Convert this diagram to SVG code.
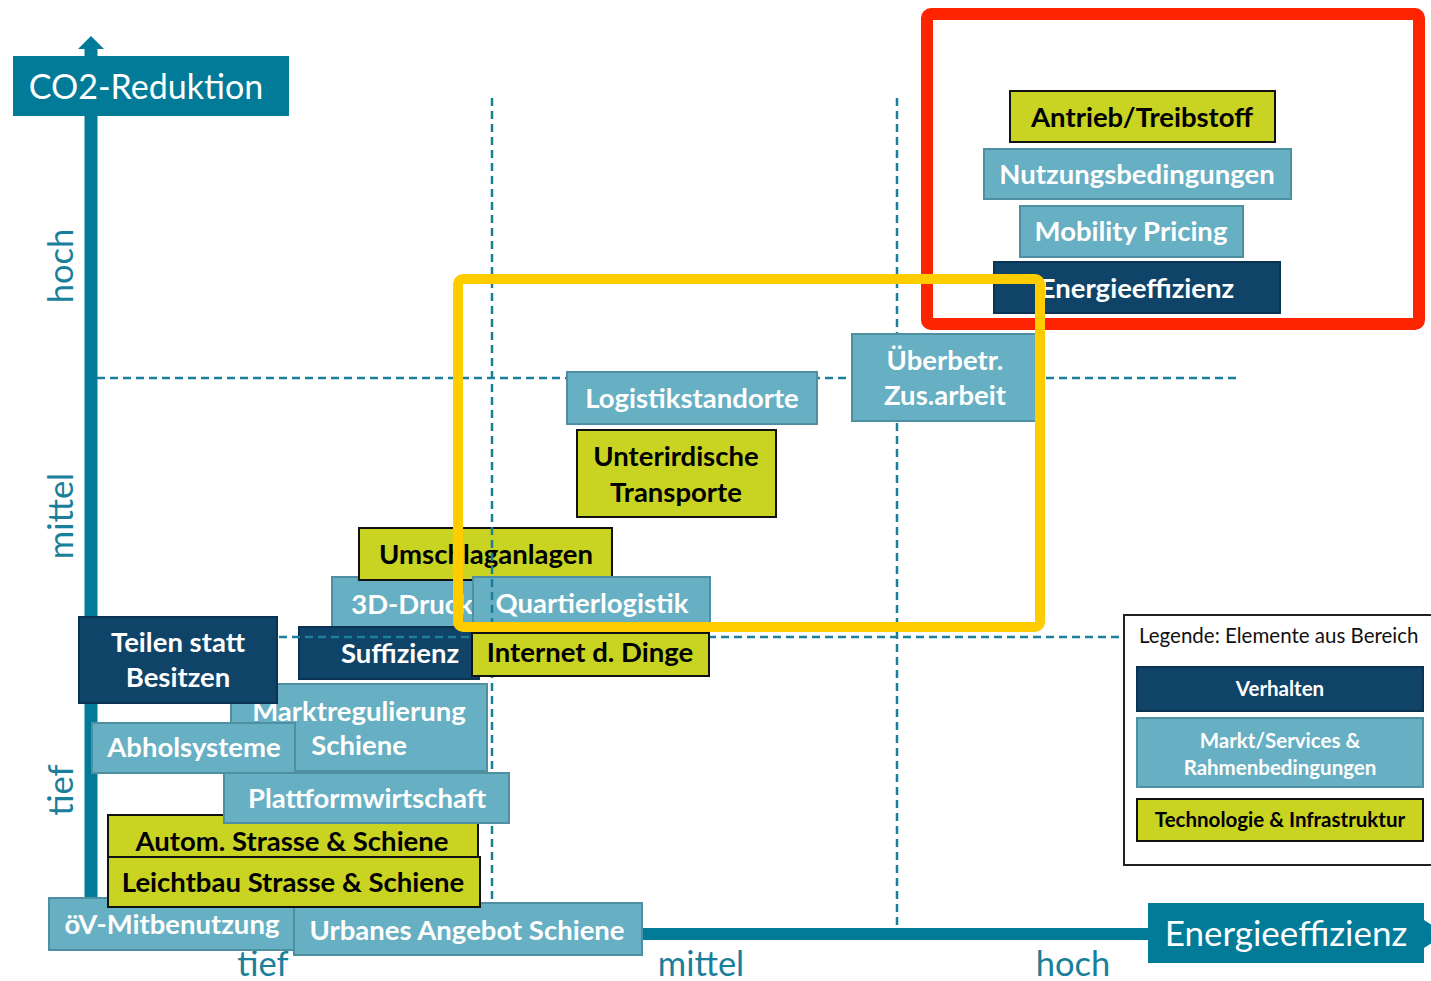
<svg xmlns="http://www.w3.org/2000/svg" width="1431" height="981" viewBox="0 0 1431 981">
<style>
text{font-family:Lato,"Open Sans","Liberation Sans",sans-serif}
.n text{font-weight:700;font-size:27.5px;text-anchor:middle}
.m rect{fill:#67AFC2;stroke:#4E8FA1;stroke-width:2}
.v rect{fill:#0F4468;stroke:#0A3352;stroke-width:2}
.t rect{fill:#C8D322;stroke:#111;stroke-width:2}
.m text,.v text{fill:#fff}
.t text{fill:#000}
.grid line{stroke:#1B7F9B;stroke-width:2.5;stroke-dasharray:8 5;fill:none}
.ax{fill:#027B98}
.axl{fill:#1A7F9A;font-size:34.5px}
.lg text{font-size:20.5px}
.lg .n text{font-size:20.5px}
</style>
<g id="axes">
<rect class="ax" x="84.5" y="46" width="13" height="890"/>
<polygon class="ax" points="78,49 91,36 104,49"/>
<rect class="ax" x="91" y="928" width="1336" height="12"/>
<polygon class="ax" points="1424,920 1446,934 1424,948"/>
<rect class="ax" x="13" y="56" width="276" height="60"/>
<text x="146" y="99" font-size="34" fill="#fff" text-anchor="middle">CO2-Reduktion</text>
<rect class="ax" x="1148" y="903" width="276" height="60"/>
<text x="1286" y="946" font-size="35" fill="#fff" text-anchor="middle">Energieeffizienz</text>
<text class="axl" transform="translate(73 266) rotate(-90)" text-anchor="middle">hoch</text>
<text class="axl" transform="translate(73 516) rotate(-90)" text-anchor="middle">mittel</text>
<text class="axl" transform="translate(73 790) rotate(-90)" text-anchor="middle">tief</text>
<text class="axl" x="263" y="976" text-anchor="middle">tief</text>
<text class="axl" x="701" y="976" text-anchor="middle">mittel</text>
<text class="axl" x="1073" y="976" text-anchor="middle">hoch</text>
</g>
<g id="n-3ddruck" class="n m"><rect x="332" y="577" width="148" height="52"/><text x="412" y="614">3D-Druck</text></g>
<g id="n-umschlag" class="n t"><rect x="359" y="528" width="253" height="52"/><text x="486" y="564">Umschlaganlagen</text></g>
<g id="n-quartier" class="n m"><rect x="473" y="577" width="237" height="51"/><text x="592" y="613">Quartierlogistik</text></g>
<g id="n-suffizienz" class="n v"><rect x="299" y="627" width="180" height="52"/><text x="400" y="663">Suffizienz</text></g>
<g id="connectors" class="grid">
<line x1="492" y1="98" x2="492" y2="903"/>
<line x1="897" y1="98" x2="897" y2="926"/>
<line x1="97" y1="378" x2="1238" y2="378"/>
<line x1="97" y1="637" x2="1124" y2="637"/>
</g>
<g id="n-internet" class="n t"><rect x="472" y="633" width="237" height="43"/><text x="590" y="662">Internet d. Dinge</text></g>
<g id="n-markt" class="n m"><rect x="231" y="684" width="256" height="87"/><text x="359" y="721">Marktregulierung</text><text x="359" y="755">Schiene</text></g>
<g id="n-teilen" class="n v"><rect x="79" y="617" width="198" height="86"/><text x="178" y="652">Teilen statt</text><text x="178" y="687">Besitzen</text></g>
<g id="n-abhol" class="n m"><rect x="92" y="723" width="203" height="50"/><text x="194" y="757">Abholsysteme</text></g>
<g id="n-autom" class="n t"><rect x="108" y="815" width="370" height="42"/><text x="292" y="851">Autom. Strasse &amp; Schiene</text></g>
<g id="n-plattform" class="n m"><rect x="224" y="773" width="285" height="50"/><text x="367" y="808">Plattformwirtschaft</text></g>
<g id="n-oev" class="n m"><rect x="49" y="898" width="248" height="52"/><text x="172" y="934">öV-Mitbenutzung</text></g>
<g id="n-urbanes" class="n m"><rect x="294" y="903" width="348" height="52"/><text x="467" y="940">Urbanes Angebot Schiene</text></g>
<g id="n-leichtbau" class="n t"><rect x="108" y="857" width="372" height="50"/><text x="293" y="892">Leichtbau Strasse &amp; Schiene</text></g>
<g id="n-logistik" class="n m"><rect x="567" y="372" width="250" height="52"/><text x="692" y="408">Logistikstandorte</text></g>
<g id="n-unterird" class="n t"><rect x="577" y="430" width="199" height="87"/><text x="676" y="466">Unterirdische</text><text x="676" y="502">Transporte</text></g>
<g id="n-ueberbetr" class="n m"><rect x="852" y="334" width="190" height="87"/><text x="945" y="370">Überbetr.</text><text x="945" y="405">Zus.arbeit</text></g>
<g id="n-antrieb" class="n t"><rect x="1010" y="91" width="265" height="51"/><text x="1142" y="127">Antrieb/Treibstoff</text></g>
<g id="n-nutzung" class="n m"><rect x="984" y="149" width="307" height="50"/><text x="1137" y="184">Nutzungsbedingungen</text></g>
<g id="n-mobility" class="n m"><rect x="1020" y="206" width="223" height="51"/><text x="1131" y="241">Mobility Pricing</text></g>
<g id="n-energie" class="n v"><rect x="994" y="262" width="286" height="51"/><text x="1137" y="298">Energieeffizienz</text></g>
<g id="frames" fill="none">
<rect x="927" y="14" width="492" height="310" rx="4" stroke="#FF2400" stroke-width="12"/>
<rect x="458" y="279" width="582" height="348" rx="5" stroke="#FFCC00" stroke-width="10"/>
</g>
<g id="legend" class="lg">
<rect x="1124" y="615" width="320" height="250" fill="#fff" stroke="#222" stroke-width="2"/>
<text x="1139" y="643" fill="#111">Legende: Elemente aus Bereich</text>
<g class="n v"><rect x="1137" y="667" width="286" height="44"/><text x="1280" y="696">Verhalten</text></g>
<g class="n m"><rect x="1137" y="718" width="286" height="69"/><text x="1280" y="748">Markt/Services &amp;</text><text x="1280" y="775">Rahmenbedingungen</text></g>
<g class="n t"><rect x="1137" y="799" width="286" height="42"/><text x="1280" y="827">Technologie &amp; Infrastruktur</text></g>
</g>
</svg>
